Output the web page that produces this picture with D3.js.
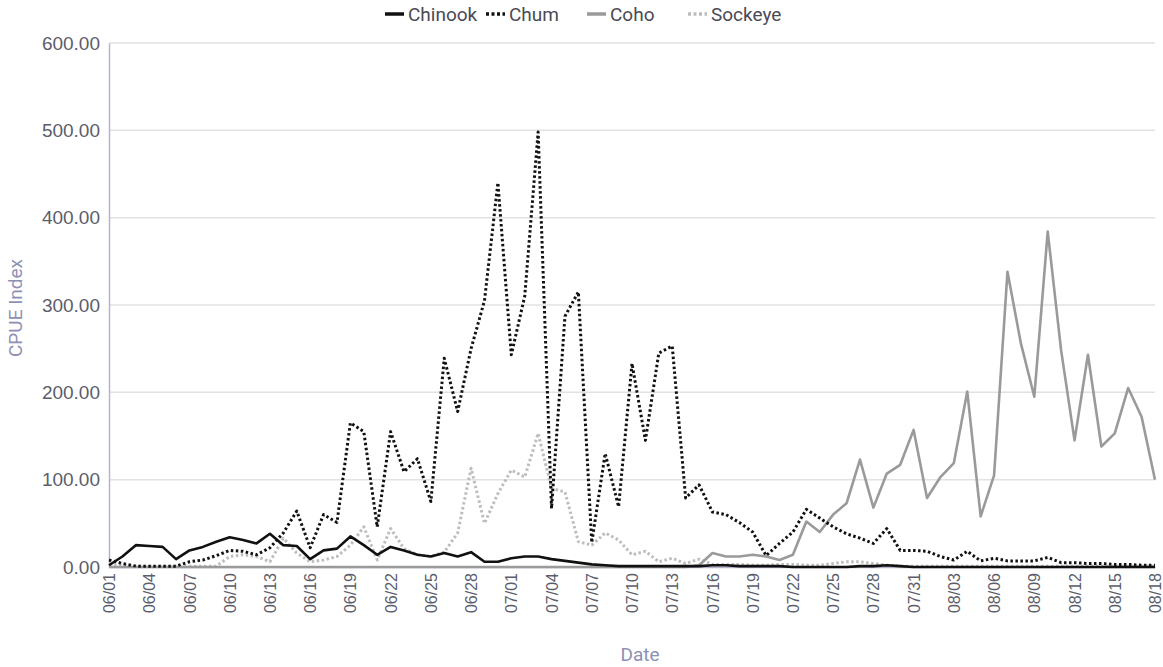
<!DOCTYPE html>
<html>
<head>
<meta charset="utf-8">
<script src="https://cdn.jsdelivr.net/npm/d3@7"></script>
<style>
  body { margin: 0; background: #fff; }
  svg { font-family: Roboto, "Liberation Sans", Arial, sans-serif; }
</style>
</head>
<body>
<div id="chart-area"></div>
<script>
// daily samples 06/01 .. 08/18
var dates = d3.timeDay.range(new Date(2020, 5, 1), new Date(2020, 7, 19)).map(d3.timeFormat("%m/%d"))

var chinook = [2,12,25,24,23,9,19,23,29,34,31,27,38,25,24,9,19,21,35,25,
  14,23,19,14,12,16,12,17,6,6,10,12,12,9,7,5,3,2,1,1,
  1,1,1,1,1,2,2,1,1,1,1,0,0,0,0,0,1,1,2,1,
  0,0,0,0,0,0,0,0,0,0,0,0,0,0,0,0,0,0,0]

var chum = [8,4,1,1,1,1,6,8,13,19,18,14,22,39,64,22,60,51,165,155,
  46,155,109,124,75,239,178,250,305,440,243,310,498,67,287,315,28,130,69,233,
  145,245,253,79,94,63,60,51,40,13,27,40,66,56,46,38,33,27,44,19,
  19,18,12,8,18,7,10,7,7,7,11,5,5,4,4,3,3,2,2]

var coho = [0,0,0,0,0,0,0,0,0,0,0,0,0,0,0,0,0,0,0,0,
  0,0,0,0,0,0,0,0,0,0,0,0,0,0,0,0,0,0,0,0,
  0,0,0,0,2,16,12,12,14,12,8,14,52,40,60,73,123,68,107,117,
  157,79,103,119,201,58,105,338,256,195,384,248,145,243,138,153,205,172,100]

var sockeye = [3,2,1,1,1,1,1,1,1,12,14,12,6,33,16,6,8,12,25,46,
  8,44,21,14,12,17,39,113,50,84,111,103,153,90,86,29,25,39,31,14,
  18,6,10,4,9,3,3,3,2,2,3,3,2,2,4,6,6,4,2,1,
  1,1,1,1,1,1,1,1,1,1,1,1,1,1,1,1,1,1,1]

var yTicks = [0,100,200,300,400,500,600]

var series = [
  {name: "Chinook", values: chinook, color: "#111", width: 2.6, dash: null},
  {name: "Chum", values: chum, color: "#111", width: 3, dash: "2.5,2.5"},
  {name: "Coho", values: coho, color: "#9a9a9a", width: 2.6, dash: null},
  {name: "Sockeye", values: sockeye, color: "#bdbdbd", width: 3, dash: "2.5,2.5"}
]

var margin = {top: 43, right: 8, bottom: 100, left: 109}
var width = 1163 - margin.left - margin.right
var height = 667 - margin.top - margin.bottom

var svg = d3.select("#chart-area")
  .append("svg")
  .attr("width", 1163)
  .attr("height", 667)

var group = svg.append("g")
  .attr("transform", "translate(" + margin.left + "," + margin.top + ")")

var x = d3.scalePoint()
  .domain(dates)
  .range([0, width])

var y = d3.scaleLinear()
  .domain([0, 600])
  .range([height, 0])

// gridlines
group.append("g")
  .selectAll("line")
  .data(yTicks)
  .enter().append("line")
  .attr("x1", 0)
  .attr("x2", width)
  .attr("y1", function(d){ return y(d) })
  .attr("y2", function(d){ return y(d) })
  .attr("stroke", "#e2e2e2")
  .attr("stroke-width", 1.5)

var yAxisCall = d3.axisLeft(y)
  .tickValues(yTicks)
  .tickSize(0)
  .tickPadding(9)
  .tickFormat(d3.format(".2f"))

var yAxis = group.append("g")
  .attr("class", "y-axis")
  .call(yAxisCall)
yAxis.select(".domain").attr("stroke", "#b4b4cc").attr("stroke-width", 1.5)
yAxis.selectAll("text")
  .attr("fill", "#5c5d6b")
  .style("font-size", "19px")

var xAxisCall = d3.axisBottom(x)
  .tickValues(dates.filter(function(d, i){ return i % 3 == 0 }))
  .tickSize(0)

var xAxis = group.append("g")
  .attr("class", "x axis")
  .attr("transform", "translate(0," + height + ")")
  .call(xAxisCall)
xAxis.select(".domain").attr("stroke", "#b4b4cc").attr("stroke-width", 1.5)
xAxis.selectAll("text")
  .attr("fill", "#5c5d6b")
  .style("font-size", "16px")
  .attr("text-anchor", "end")
  .attr("transform", "rotate(-90)")
  .attr("x", -6)
  .attr("y", 0)
  .attr("dy", "0.35em")

var line = d3.line()
  .x(function(d, i){ return x(dates[i]) })
  .y(function(d){ return y(d) })

// draw back to front so the black lines sit on top
series.slice().reverse().forEach(function(s){
  group.append("path")
    .datum(s.values)
    .attr("fill", "none")
    .attr("stroke", s.color)
    .attr("stroke-width", s.width)
    .attr("stroke-dasharray", s.dash)
    .attr("stroke-linejoin", "round")
    .attr("d", line)
})

// axis titles
svg.append("text")
  .attr("transform", "translate(15," + (margin.top + height / 2 + 3) + ") rotate(-90)")
  .attr("text-anchor", "middle")
  .attr("dy", "0.35em")
  .attr("fill", "#8e8fb4")
  .style("font-size", "19px")
  .text("CPUE Index")

svg.append("text")
  .attr("x", margin.left + width / 2 + 8)
  .attr("y", 661)
  .attr("text-anchor", "middle")
  .attr("fill", "#8e8fb4")
  .style("font-size", "19px")
  .text("Date")

// legend
var legend = svg.append("g")
  .attr("transform", "translate(385,14)")

var item = legend.selectAll("g")
  .data(series)
  .enter().append("g")
  .attr("transform", function(d, i){ return "translate(" + (i * 101) + ",0)" })

item.append("line")
  .attr("x1", 0)
  .attr("x2", 19)
  .attr("stroke", function(d){ return d.color })
  .attr("stroke-width", 3.5)
  .attr("stroke-dasharray", function(d){ return d.dash ? "3,2.5" : null })

item.append("text")
  .attr("x", 23)
  .attr("dy", "0.35em")
  .attr("fill", "#4a4a55")
  .style("font-size", "19px")
  .text(function(d){ return d.name })
</script>
</body>
</html>
